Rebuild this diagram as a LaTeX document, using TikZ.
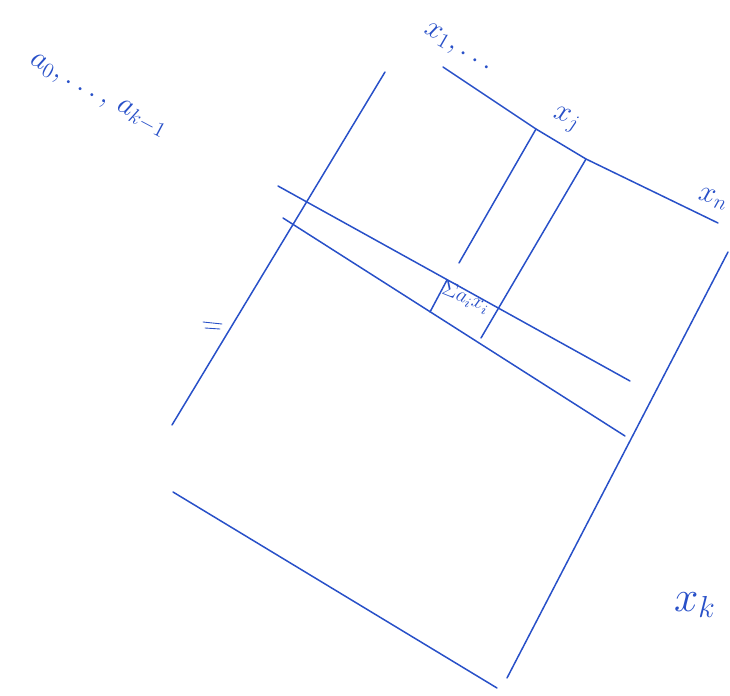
\documentclass[tikz,border=0pt]{standalone}
\usepackage{tikz}
\usetikzlibrary{positioning}

\definecolor{penblue}{RGB}{40,80,200}

\begin{document}
\begin{tikzpicture}[x=0.02cm,y=-0.02cm,
every node/.style={align=center, text=penblue, inner sep=1pt},
pen/.style={draw=penblue, line width=0.85pt, line cap=round}]

\useasboundingbox (0,0) rectangle (730,696);

% Outer Frame
\coordinate (lefttop) at (385,72);
\coordinate (leftbot) at (172,425);
\coordinate (toptop) at (443,67);
\coordinate (topend) at (718,223);
\coordinate (righttop) at (728,252);
\coordinate (rightbot) at (507,678);
\coordinate (botleft) at (173,492);
\coordinate (botright) at (497,688);

\draw[pen] (lefttop) -- (leftbot);
\draw[pen] (toptop) -- (536,129) -- (586,159) -- (topend);
\draw[pen] (righttop) -- (rightbot);
\draw[pen] (botleft) -- (botright);

% Row Band
\coordinate (rowatop) at (278,186);
\coordinate (rowaend) at (630,381);
\coordinate (rowbtop) at (283,218);
\coordinate (rowbend) at (625,436);

\draw[pen] (rowatop) -- (rowaend);
\draw[pen] (rowbtop) -- (rowbend);

% Column Band
\coordinate (colatop) at (536,129);
\coordinate (colaend) at (459,263);
\coordinate (colbtop) at (586,159);
\coordinate (colbend) at (481,338);

\draw[pen] (colatop) -- (colaend);
\draw[pen] (colbtop) -- (colbend);
\draw[pen] (447,280) -- (430,312);

% Tick on left side
\draw[pen, line width=0.5pt] (203,322) -- (222,324);
\draw[pen, line width=0.5pt] (205,328) -- (220,329);

% Labels
\node[
rotate=-28,
font=\fontsize{18}{20}\selectfont
] (avec) at (98,96)
{$a_0,\ldots,\,a_{k-1}$};

\node[
rotate=-30,
font=\fontsize{17}{19}\selectfont
] (xfirst) at (458,48)
{$x_1,\ldots$};

\node[
rotate=-20,
font=\fontsize{17}{19}\selectfont
] (xj) at (566,120)
{$x_j$};

\node[
rotate=-15,
font=\fontsize{17}{19}\selectfont
] (xn) at (713,199)
{$x_n$};

\node[
rotate=-22,
font=\fontsize{11.5}{13}\selectfont
] (cell) at (466,298)
{$\Sigma a_i x_i$};

\node[
font=\fontsize{24}{26}\selectfont
] (xk) at (695,605)
{$x_k$};

\end{tikzpicture}
\end{document}
